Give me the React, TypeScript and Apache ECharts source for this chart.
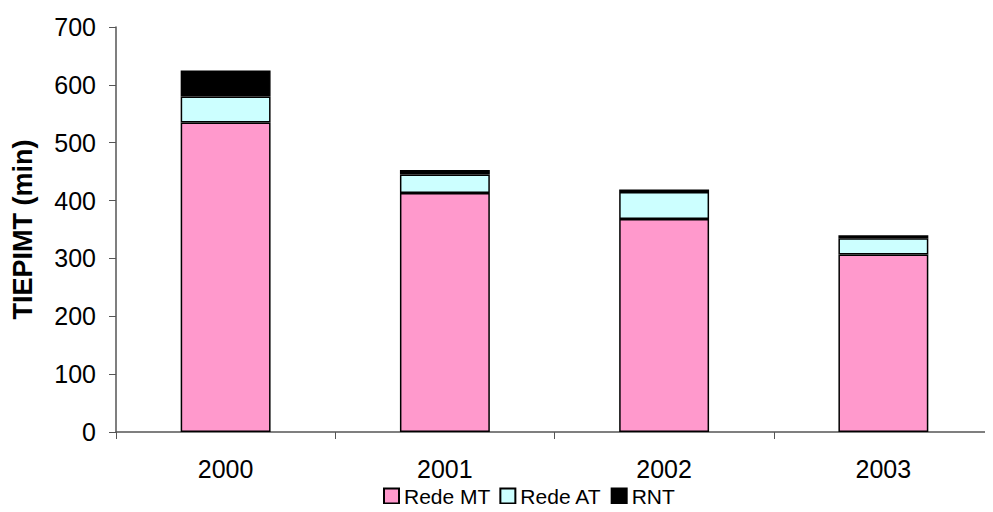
import React, { useEffect, useRef } from "react";
import * as echarts from "echarts";

const categories = ["2000", "2001", "2002", "2003"];
const redeMT = [535, 413, 368, 307];
const redeAT = [45, 32, 47, 28];
const rnt = [45, 8, 4, 5];
const yTicks = { min: 0, max: 700, interval: 100 };

export default function App() {
  const ref = useRef<HTMLDivElement>(null);
  useEffect(() => {
    if (!ref.current) return;
    const chart = echarts.init(ref.current, undefined, { renderer: "svg" });
    const font = "Liberation Sans, Arial, sans-serif";
    const barStyle = (color: string) => ({
      color,
      borderColor: "#000",
      borderWidth: 1.5,
    });
    chart.setOption({
      animation: false,
      backgroundColor: "#fff",
      textStyle: { fontFamily: font },
      grid: { left: 116, top: 27, bottom: 80, width: 892, containLabel: false },
      legend: {
        top: 484,
        left: 383,
        padding: 0,
        icon: "rect",
        itemWidth: 15,
        itemHeight: 15,
        itemGap: 9,
        textStyle: { fontFamily: font, fontSize: 21, lineHeight: 24, color: "#000" },
        data: ["Rede MT", "Rede AT", "RNT"],
      },
      xAxis: {
        type: "category",
        data: categories,
        axisLine: { lineStyle: { color: "#555", width: 1.5 } },
        axisTick: { show: true, length: 7, inside: false, lineStyle: { color: "#555" } },
        axisLabel: { fontSize: 25, color: "#000", margin: 24, fontFamily: font },
      },
      yAxis: {
        type: "value",
        min: yTicks.min,
        max: yTicks.max,
        interval: yTicks.interval,
        name: "TIEPIMT (min)",
        nameLocation: "middle",
        nameGap: 80,
        nameTextStyle: { fontSize: 27, fontWeight: "bold", color: "#000", fontFamily: font },
        splitLine: { show: false },
        axisLine: { show: true, lineStyle: { color: "#555", width: 1.5 } },
        axisTick: { show: true, length: 7, lineStyle: { color: "#555" } },
        axisLabel: { fontSize: 25, color: "#000", margin: 20, fontFamily: font },
      },
      series: [
        { name: "Rede MT", type: "bar", stack: "t", data: redeMT, barWidth: "41%", itemStyle: barStyle("#FF99CC") },
        { name: "Rede AT", type: "bar", stack: "t", data: redeAT, itemStyle: barStyle("#CCFFFF") },
        { name: "RNT", type: "bar", stack: "t", data: rnt, itemStyle: barStyle("#000000") },
      ],
    });
    return () => chart.dispose();
  }, []);
  return <div ref={ref} style={{ width: 993, height: 512, margin: -8 }} />;
}
